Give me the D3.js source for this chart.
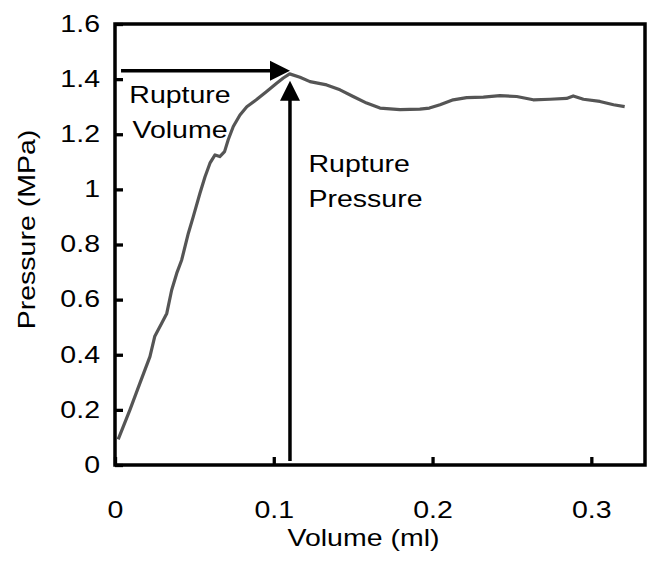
<!DOCTYPE html>
<html>
<head>
<meta charset="utf-8">
<script src="https://cdn.jsdelivr.net/npm/d3@7"></script>
<style>
  body { margin: 0; background: #fff; }
  svg text { font-family: "Liberation Sans", Arial, sans-serif; fill: #000; }
</style>
</head>
<body>
<div id="chart"></div>
<script>
// curve: volume (ml) vs pressure (MPa)
var volume = [0.002, 0.0052, 0.0094, 0.0157, 0.022, 0.025, 0.0294, 0.0326, 0.0357, 0.0389,
  0.042, 0.0462, 0.0493, 0.0535, 0.0567, 0.0598, 0.063, 0.066, 0.069, 0.0713,
  0.0745, 0.0787, 0.083, 0.089, 0.0955, 0.1018, 0.106, 0.110, 0.1165, 0.1228,
  0.1333, 0.1417, 0.150, 0.1585, 0.1669, 0.1795, 0.192, 0.198, 0.2047, 0.213,
  0.2215, 0.232, 0.2424, 0.253, 0.2634, 0.274, 0.2844, 0.2886, 0.295, 0.3054,
  0.314, 0.321];
var pressure = [0.093, 0.139, 0.20, 0.297, 0.393, 0.466, 0.514, 0.55, 0.635, 0.696,
  0.744, 0.841, 0.901, 0.986, 1.046, 1.095, 1.125, 1.119, 1.137, 1.18,
  1.228, 1.27, 1.30, 1.325, 1.355, 1.385, 1.404, 1.419, 1.407, 1.391,
  1.379, 1.361, 1.337, 1.313, 1.295, 1.289, 1.291, 1.295, 1.307, 1.325,
  1.333, 1.335, 1.34, 1.337, 1.325, 1.327, 1.33, 1.339, 1.327, 1.319,
  1.307, 1.30];

var xTicks = [0, 0.1, 0.2, 0.3];
var yTicks = [0, 0.2, 0.4, 0.6, 0.8, 1, 1.2, 1.4, 1.6];
var xMax = 0.3338, yMax = 1.6;

// annotation arrows (data coords)
var volArrow = { x1: 0.0038, x2: 0.1102, y: 1.43 };
var presArrow = { x: 0.1102, y1: 0.0145, y2: 1.394 };

var width = 651, height = 565;
var margin = { top: 24, right: 6, bottom: 100, left: 115 };
var fontSize = 23;
var stretch = 1.24; // the text in the picture is drawn wide

var svg = d3.select("#chart").append("svg")
  .attr("width", width)
  .attr("height", height);

var xScale = d3.scaleLinear().domain([0, xMax]).range([margin.left, width - margin.right]);
var yScale = d3.scaleLinear().domain([0, yMax]).range([height - margin.bottom, margin.top]);

var fmt = function(d){ return String(+d.toFixed(1)); };

// axes, ticks pointing inward
var yAxis = d3.axisLeft(yScale).tickValues(yTicks).tickFormat(fmt)
  .tickSizeInner(-8).tickSizeOuter(0).tickPadding(15);
var xAxis = d3.axisBottom(xScale).tickValues(xTicks).tickFormat(fmt)
  .tickSizeInner(-8).tickSizeOuter(0).tickPadding(37);

var gy = svg.append("g")
  .attr("transform", "translate(" + margin.left + ",0)")
  .call(yAxis);
var gx = svg.append("g")
  .attr("transform", "translate(0," + (height - margin.bottom) + ")")
  .call(xAxis);

[gx, gy].forEach(function(g){
  g.select(".domain").remove();
  g.selectAll(".tick line").attr("stroke", "#000").attr("stroke-width", 3.3);
  g.selectAll(".tick text")
    .attr("font-size", fontSize)
    .attr("font-family", null)
    .attr("x", function(){ return +d3.select(this).attr("x") / stretch; })
    .attr("transform", "scale(" + stretch + ",1)");
});

// plot frame
svg.append("rect")
  .attr("x", xScale(0))
  .attr("y", yScale(yMax))
  .attr("width", xScale(xMax) - xScale(0))
  .attr("height", yScale(0) - yScale(yMax))
  .attr("fill", "none")
  .attr("stroke", "#000")
  .attr("stroke-width", 3.5);

// the curve
var line = d3.line()
  .x(function(d){ return xScale(d[0]); })
  .y(function(d){ return yScale(d[1]); });

svg.append("path")
  .datum(d3.zip(volume, pressure))
  .attr("d", line)
  .attr("fill", "none")
  .attr("stroke", "#555")
  .attr("stroke-width", 3.2)
  .attr("stroke-linejoin", "round");

// arrows
var headLen = 20, headHalf = 10;
var ax1 = xScale(volArrow.x1), ax2 = xScale(volArrow.x2), ay = yScale(volArrow.y);
svg.append("line")
  .attr("x1", ax1).attr("y1", ay).attr("x2", ax2 - headLen + 1).attr("y2", ay)
  .attr("stroke", "#000").attr("stroke-width", 3.5);
svg.append("path")
  .attr("d", "M" + ax2 + "," + ay + "L" + (ax2 - headLen) + "," + (ay - headHalf)
    + "L" + (ax2 - headLen) + "," + (ay + headHalf) + "Z")
  .attr("fill", "#000");

var bx = xScale(presArrow.x), by1 = yScale(presArrow.y1), by2 = yScale(presArrow.y2);
svg.append("line")
  .attr("x1", bx).attr("y1", by1).attr("x2", bx).attr("y2", by2 + headLen - 1)
  .attr("stroke", "#000").attr("stroke-width", 3.5);
svg.append("path")
  .attr("d", "M" + bx + "," + by2 + "L" + (bx - headHalf) + "," + (by2 + headLen)
    + "L" + (bx + headHalf) + "," + (by2 + headLen) + "Z")
  .attr("fill", "#000");

// text helper: stretched text anchored at x,y
function label(x, y, str, anchor, rotate){
  var g = svg.append("g")
    .attr("transform", "translate(" + x + "," + y + ")" + (rotate ? " rotate(" + rotate + ")" : ""));
  g.append("text")
    .attr("transform", "scale(" + stretch + ",1)")
    .attr("text-anchor", anchor)
    .attr("font-size", fontSize)
    .text(str);
}

label(180, 103, "Rupture", "middle");
label(180, 138, "Volume", "middle");
label(308.5, 172, "Rupture", "start");
label(308.5, 207, "Pressure", "start");

// axis titles
label(363.5, 546, "Volume (ml)", "middle");
label(35, 229.5, "Pressure (MPa)", "middle", -90);
</script>
</body>
</html>
